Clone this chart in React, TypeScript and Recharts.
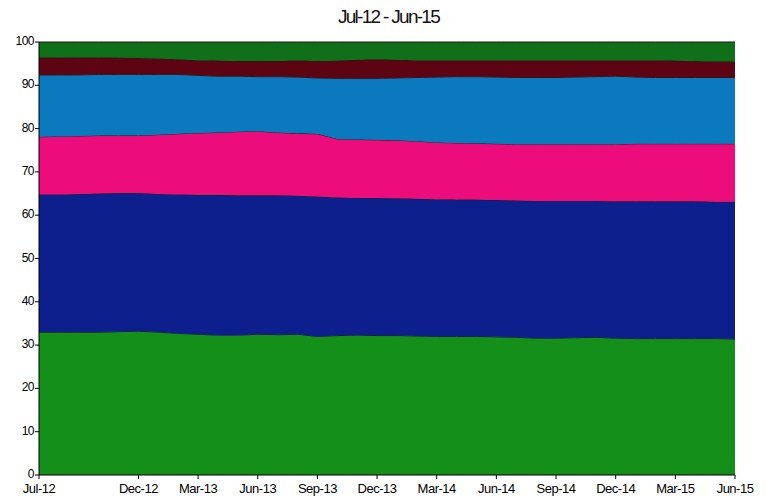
import { AreaChart, Area, XAxis, YAxis } from 'recharts';

const MONTHS = [
  'Jul-12', 'Aug-12', 'Sep-12', 'Oct-12', 'Nov-12', 'Dec-12',
  'Jan-13', 'Feb-13', 'Mar-13', 'Apr-13', 'May-13', 'Jun-13',
  'Jul-13', 'Aug-13', 'Sep-13', 'Oct-13', 'Nov-13', 'Dec-13',
  'Jan-14', 'Feb-14', 'Mar-14', 'Apr-14', 'May-14', 'Jun-14',
  'Jul-14', 'Aug-14', 'Sep-14', 'Oct-14', 'Nov-14', 'Dec-14',
  'Jan-15', 'Feb-15', 'Mar-15', 'Apr-15', 'May-15', 'Jun-15',
];

const TICK_INDEX = [0, 5, 8, 11, 14, 17, 20, 23, 26, 29, 32, 35];
const Y_TICKS = [0, 10, 20, 30, 40, 50, 60, 70, 80, 90, 100];

// stacked shares, bottom layer first
const S1 = [33.0, 33.0, 33.0, 33.0, 33.1, 33.2, 33.0, 32.7, 32.5, 32.3, 32.3, 32.5, 32.4, 32.5, 32.0, 32.2, 32.3, 32.2, 32.2, 32.1, 32.0, 32.0, 32.0, 31.9, 31.8, 31.6, 31.6, 31.7, 31.8, 31.6, 31.5, 31.5, 31.5, 31.5, 31.5, 31.4];
const S2 = [31.8, 31.8, 31.9, 32.0, 32.0, 31.9, 31.9, 32.1, 32.2, 32.4, 32.3, 32.1, 32.2, 32.0, 32.3, 31.9, 31.7, 31.8, 31.7, 31.7, 31.7, 31.6, 31.6, 31.6, 31.6, 31.7, 31.7, 31.6, 31.5, 31.6, 31.7, 31.7, 31.7, 31.7, 31.6, 31.7];
const S3 = [13.3, 13.4, 13.4, 13.4, 13.3, 13.3, 13.7, 14.0, 14.3, 14.4, 14.7, 14.8, 14.5, 14.4, 14.5, 13.5, 13.5, 13.4, 13.4, 13.3, 13.1, 13.1, 13.0, 13.0, 13.0, 13.1, 13.1, 13.1, 13.1, 13.2, 13.3, 13.3, 13.3, 13.3, 13.4, 13.4];
const S4 = [14.3, 14.2, 14.1, 14.1, 14.1, 14.1, 13.9, 13.7, 13.3, 13.0, 12.8, 12.6, 12.9, 13.0, 12.9, 14.0, 14.1, 14.2, 14.4, 14.7, 15.1, 15.3, 15.4, 15.4, 15.4, 15.4, 15.4, 15.5, 15.6, 15.7, 15.4, 15.3, 15.3, 15.3, 15.3, 15.3];
const S5 = [4.0, 4.0, 4.0, 3.9, 3.9, 3.8, 3.7, 3.5, 3.5, 3.6, 3.5, 3.6, 3.6, 3.9, 3.9, 4.1, 4.3, 4.4, 4.2, 4.0, 3.9, 3.8, 3.8, 3.9, 4.0, 4.0, 4.0, 3.9, 3.8, 3.7, 3.9, 4.0, 3.9, 3.8, 3.7, 3.7];
const S6 = [3.6, 3.6, 3.6, 3.6, 3.6, 3.7, 3.8, 4.0, 4.2, 4.3, 4.4, 4.4, 4.4, 4.2, 4.4, 4.3, 4.1, 4.0, 4.1, 4.2, 4.2, 4.2, 4.2, 4.2, 4.2, 4.2, 4.2, 4.2, 4.2, 4.2, 4.2, 4.2, 4.3, 4.4, 4.5, 4.5];

const SERIES = [
  { key: 's1', values: S1, color: '#14901a' },
  { key: 's2', values: S2, color: '#0d1f8c' },
  { key: 's3', values: S3, color: '#ec0c7c' },
  { key: 's4', values: S4, color: '#0a79bd' },
  { key: 's5', values: S5, color: '#5c0412' },
  { key: 's6', values: S6, color: '#10701a' },
];

const data = MONTHS.map((m, i) => {
  const row: Record<string, number | string> = { i, month: m };
  SERIES.forEach((s) => {
    row[s.key] = s.values[i];
  });
  return row;
});

const font = '"Liberation Sans", Arial, sans-serif';

function YTick(props: any) {
  const { x, y, payload } = props;
  return (
    <text
      x={x}
      y={y}
      dy={3}
      textAnchor="end"
      fill="#000"
      fontSize={12}
      fontFamily={font}
      letterSpacing={-0.5}
    >
      {payload.value}
    </text>
  );
}

export default function App() {
  return (
    <div style={{ position: 'absolute', left: 0, top: 0, width: 771, height: 496, background: '#fff' }}>
      <div
        style={{
          position: 'absolute',
          left: 0,
          width: 777,
          top: 6,
          textAlign: 'center',
          fontFamily: font,
          fontSize: 19,
          letterSpacing: -1.7,
          color: '#111',
        }}
      >
        Jul-12 - Jun-15
      </div>
      <AreaChart
        width={771}
        height={496}
        data={data}
        margin={{ top: 42, right: 36, bottom: 1, left: 0 }}
      >
        <XAxis
          dataKey="i"
          type="number"
          domain={[0, 35]}
          ticks={TICK_INDEX}
          tickFormatter={(v: number) => MONTHS[v]}
          height={20}
          axisLine={{ stroke: '#000' }}
          tickLine={{ stroke: '#000' }}
          tickSize={4}
          tickMargin={5}
          tick={{ fill: '#000', fontSize: 13, fontFamily: font, letterSpacing: -0.5 }}
          interval={0}
        />
        <YAxis
          domain={[0, 100]}
          ticks={Y_TICKS}
          width={39}
          axisLine={{ stroke: '#000' }}
          tickLine={{ stroke: '#000' }}
          tickSize={4}
          tickMargin={1}
          tick={<YTick />}
          interval={0}
        />
        {SERIES.map((s) => (
          <Area
            key={s.key}
            type="linear"
            dataKey={s.key}
            stackId="1"
            stroke="#1a1a1a"
            strokeWidth={1}
            fill={s.color}
            fillOpacity={1}
            isAnimationActive={false}
          />
        ))}
      </AreaChart>
    </div>
  );
}
